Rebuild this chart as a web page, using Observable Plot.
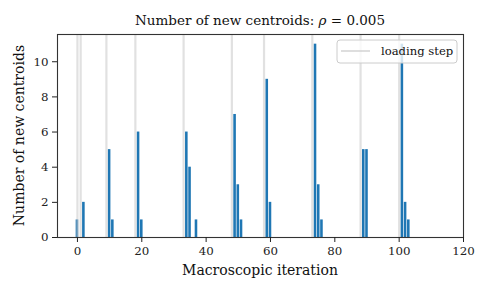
<!DOCTYPE html>
<html>
<head>
<meta charset="utf-8">
<script src="https://cdn.jsdelivr.net/npm/d3@7"></script>
<script src="https://cdn.jsdelivr.net/npm/@observablehq/plot@0.6"></script>
<style>
  html, body { margin: 0; padding: 0; background: #fff; }
  #chart svg { display: block; }
  #chart svg, #chart svg text { font-family: "DejaVu Serif", "Liberation Serif", serif !important; }
</style>
</head>
<body>
<div id="chart"></div>
<script>
// Data
const iterations = [0, 2, 10, 11, 19, 20, 34, 35, 37, 49, 50, 51, 59, 60, 74, 75, 76, 89, 90, 101, 102, 103];
const newCentroids = [1, 2, 5, 1, 6, 1, 6, 4, 1, 7, 3, 1, 9, 2, 11, 3, 1, 5, 5, 11, 2, 1];
const loadingSteps = [0, 1, 9, 18, 33, 48, 58, 73, 88, 100];
const xTicks = [0, 20, 40, 60, 80, 100, 120];
const yTicks = [0, 2, 4, 6, 8, 10];

const bars = iterations.map((it, i) => ({it, n: newCentroids[i]}));
const W = 488, H = 293;
const mL = 57, mR = 25, mT = 34, mB = 56;

const chart = Plot.plot({
  width: W,
  height: H,
  marginLeft: mL,
  marginRight: mR,
  marginTop: mT,
  marginBottom: mB,
  style: {fontSize: "11.8px", color: "#222", background: "#fff"},
  x: {domain: [-6.2, 120]},
  y: {domain: [0, 11.55]},
  marks: [
    Plot.rectY(bars, {x1: d => d.it - 0.4, x2: d => d.it + 0.4, y: "n", fill: "#1f77b4"}),
    Plot.ruleX(loadingSteps, {stroke: "#c8c8c8", strokeOpacity: 0.55, strokeWidth: 2.2}),
    Plot.frame({stroke: "#333", strokeWidth: 1.1}),
    Plot.axisX({ticks: xTicks, tickSize: 5, tickPadding: 4, label: null, stroke: "#222", fill: "#222"}),
    Plot.axisY({ticks: yTicks, tickSize: 5, tickPadding: 4, label: null, stroke: "#222", fill: "#222"})
  ]
});

document.getElementById("chart").appendChild(chart);

const svg = d3.select(chart);
const cx = mL + (W - mL - mR) / 2;
const cy = mT + (H - mT - mB) / 2;

// Title
const title = svg.append("text")
  .attr("x", cx).attr("y", 25)
  .attr("text-anchor", "middle")
  .attr("font-size", 13.5).attr("fill", "#111");
title.append("tspan").text("Number of new centroids: ");
title.append("tspan").attr("font-style", "italic").text("ρ");
title.append("tspan").text(" = 0.005");

// X label
svg.append("text")
  .attr("x", cx).attr("y", 275)
  .attr("text-anchor", "middle")
  .attr("font-size", 14).attr("fill", "#111")
  .text("Macroscopic iteration");

// Y label
svg.append("text")
  .attr("transform", `translate(24,${cy}) rotate(-90)`)
  .attr("text-anchor", "middle")
  .attr("font-size", 14).attr("fill", "#111")
  .text("Number of new centroids");

// Legend
const lg = svg.append("g");
lg.append("rect")
  .attr("x", 337).attr("y", 40).attr("width", 120).attr("height", 23)
  .attr("rx", 3).attr("fill", "#fff").attr("fill-opacity", 0.8)
  .attr("stroke", "#ccc").attr("stroke-width", 1);
lg.append("line")
  .attr("x1", 341).attr("x2", 370).attr("y1", 51).attr("y2", 51)
  .attr("stroke", "#c8c8c8").attr("stroke-opacity", 0.6).attr("stroke-width", 2);
lg.append("text")
  .attr("x", 381).attr("y", 55)
  .attr("text-anchor", "start")
  .attr("font-size", 11.6).attr("fill", "#111")
  .text("loading step");
</script>
</body>
</html>
